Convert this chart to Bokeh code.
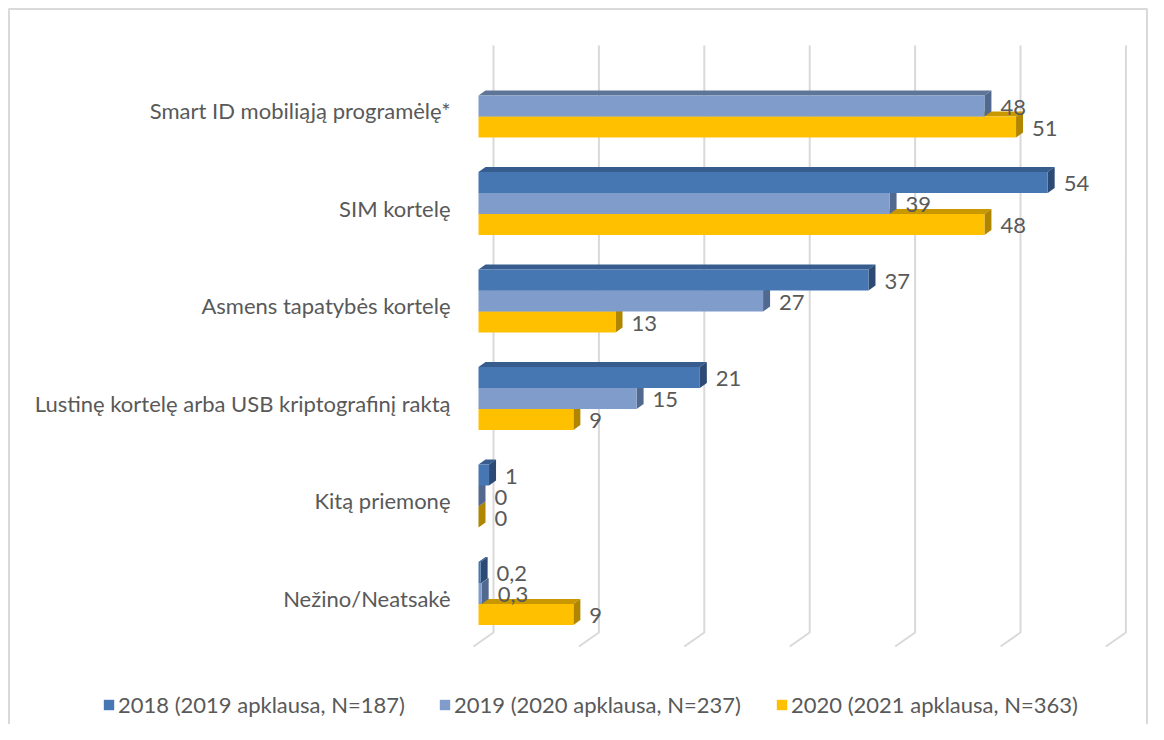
from bokeh.plotting import figure
from bokeh.models import ColumnDataSource, Range1d, Legend, LegendItem
from bokeh.core.properties import value
from bokeh.embed import file_html
from bokeh.resources import INLINE

# ---------------- data ----------------
categories = [
    "Smart ID mobiliąją programėlę*",
    "SIM kortelę",
    "Asmens tapatybės kortelę",
    "Lustinę kortelę arba USB kriptografinį raktą",
    "Kitą priemonę",
    "Nežino/Neatsakė",
]
series_names = [
    "2018 (2019 apklausa, N=187)",
    "2019 (2020 apklausa, N=237)",
    "2020 (2021 apklausa, N=363)",
]
values_2018 = [None, 54, 37, 21, 1, 0.2]
values_2019 = [48, 39, 27, 15, 0, 0.3]
values_2020 = [51, 48, 13, 9, 0, 9]
grid_ticks = [0, 10, 20, 30, 40, 50, 60]

# ---------------- styling / geometry ----------------
W, H = 1148, 724
PX_X = 10.54          # px per value unit
X0_PX = 478           # fig px of value 0 (front)
PITCH = 97.5          # px per category
Y0_PX = 105.5         # fig px of first category centre
BAR_H = 21            # px
DX, DY = 7, 5         # 3D depth of bars (px)
FONT = "Lato"
FS = "22px"
TXT = "#595959"

front_cols = ["#4677B3", "#7F9CCB", "#FFC000"]
top_cols = ["#375D8E", "#5F7597", "#C99800"]
side_cols = ["#2C4A73", "#52698F", "#B08600"]

ux = 1.0 / PX_X
uy = 1.0 / PITCH


def fx(px):
    return (px - X0_PX) * ux


def fy(px):
    return (px - Y0_PX) * uy


p = figure(
    width=W, height=H,
    x_range=Range1d(fx(0), fx(W)),
    y_range=Range1d(fy(H), fy(0)),
    output_backend="svg", toolbar_location=None,
    x_axis_type=None, y_axis_type=None, min_border=0,
)
p.grid.visible = False
p.outline_line_color = None
p.background_fill_color = "white"
p.border_fill_color = "white"

# outer chart border (left, top, right)
p.multi_line(xs=[[fx(8.5), fx(8.5), fx(W - 1.5), fx(W - 1.5)]],
             ys=[[fy(H + 5), fy(8.5), fy(8.5), fy(H + 5)]],
             line_color="#D9D9D9", line_width=2)

# ---------------- gridlines (back wall + floor) ----------------
back_off = 15 * ux
floor_off = -5 * ux
gxs = [[t + back_off, t + back_off, t + floor_off] for t in grid_ticks]
gys = [[fy(45), fy(632), fy(646)] for _ in grid_ticks]
p.multi_line(xs=gxs, ys=gys, line_color="#D9D9D9", line_width=2)

# ---------------- bars ----------------
all_series = [values_2018, values_2019, values_2020]
front_renderers = [None, None, None]


def fmt(v):
    return ("%g" % v).replace(".", ",")


for k in [2, 1, 0]:  # draw lower bars first
    vals = all_series[k]
    left, right, tops, bots = [], [], [], []
    txs, tys, sxs, sys_ = [], [], [], []
    lx, ly, lt = [], [], []
    for i, v in enumerate(vals):
        if v is None:
            continue
        yt = i - 31.5 * uy + k * BAR_H * uy
        yb = yt + BAR_H * uy
        dx = DX * ux
        dy = DY * uy
        left.append(0)
        right.append(v)
        tops.append(yt)
        bots.append(yb)
        txs.append([0, v, v + dx, dx])
        tys.append([yt, yt, yt - dy, yt - dy])
        sxs.append([v, v + dx, v + dx, v])
        sys_.append([yt, yt - dy, yb - dy, yb])
        lx.append(v)
        ly.append((yt + yb) / 2 + 1 * uy)
        lt.append(fmt(v))
    p.patches(xs=txs, ys=tys, fill_color=top_cols[k], line_color=None)
    p.patches(xs=sxs, ys=sys_, fill_color=side_cols[k], line_color=None)
    src = ColumnDataSource(dict(left=left, right=right, top=tops, bottom=bots))
    r = p.quad(left="left", right="right", top="top", bottom="bottom",
               source=src, fill_color=front_cols[k], line_color=None)
    front_renderers[k] = r
    lsrc = ColumnDataSource(dict(x=lx, y=ly, t=lt))
    p.text(x="x", y="y", text="t", source=lsrc, x_offset=16,
           text_align="left", text_baseline="middle",
           text_font=value(FONT), text_font_size=FS, text_color=TXT)

# ---------------- category labels ----------------
csrc = ColumnDataSource(dict(
    x=[0] * len(categories),
    y=[i + 4.5 * uy for i in range(len(categories))],
    t=categories,
))
p.text(x="x", y="y", text="t", source=csrc, x_offset=-28,
       text_align="right", text_baseline="middle",
       text_font=value(FONT), text_font_size=FS, text_color=TXT)

# ---------------- legend ----------------
leg_x = [102, 438, 775]
for k in range(3):
    lg = Legend(
        items=[LegendItem(label=series_names[k], renderers=[front_renderers[k]])],
        location=(leg_x[k], 6), orientation="horizontal",
        glyph_width=13, glyph_height=13, label_standoff=3,
        label_height=20, padding=0, margin=0, spacing=0,
        border_line_alpha=0, background_fill_alpha=0,
        label_text_font=FONT, label_text_font_size=FS, label_text_color=TXT,
    )
    p.add_layout(lg)

open("out.html", "w").write(file_html(p, INLINE))
